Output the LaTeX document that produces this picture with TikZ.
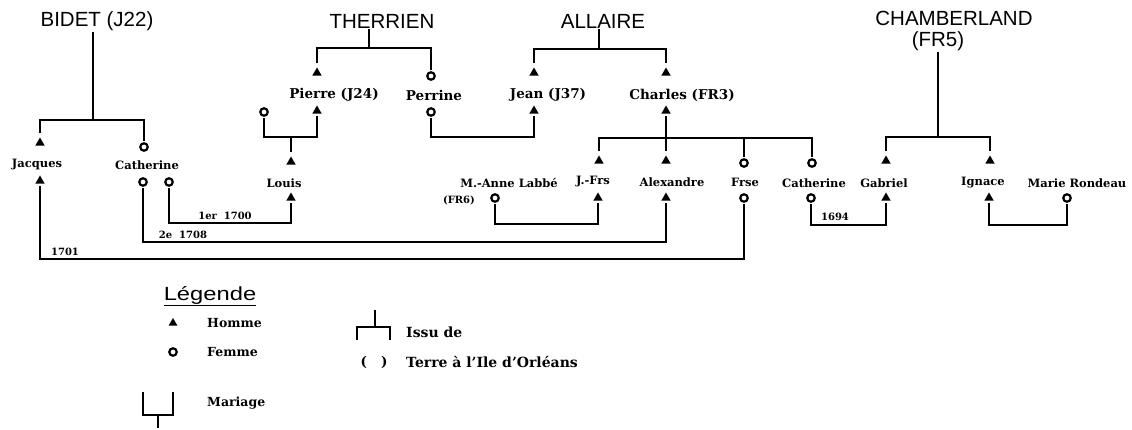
\documentclass[tikz,border=0pt]{standalone}
\usepackage{fontspec}
\setmainfont{DejaVu Serif}
\newfontfamily\famfont{Liberation Sans}
\usetikzlibrary{shapes.geometric, positioning, calc}

\tikzset{
  homme/.style={regular polygon, regular polygon sides=3, fill=black, inner sep=0pt, minimum size=11pt, outer sep=2pt},
  femme/.style={circle, draw=black, line width=2.2pt, inner sep=0pt, minimum size=7.5pt, outer sep=2.5pt},
  nom/.style={font=\fontsize{11.5}{13}\selectfont\bfseries, inner sep=1pt},
  grandnom/.style={font=\fontsize{13.5}{15}\selectfont\bfseries, inner sep=1pt},
  legtexte/.style={font=\fontsize{12.5}{14}\selectfont\bfseries, inner sep=1pt, anchor=west},
  date/.style={font=\fontsize{10}{11}\selectfont\bfseries, inner sep=1pt},
  famille/.style={font=\famfont\fontsize{20.5}{22}\selectfont, inner sep=1pt},
  lien/.style={line width=1.8pt},
}

\begin{document}
\begin{tikzpicture}[x=1pt, y=-1pt]
  \useasboundingbox (0,0) rectangle (1132,430);

  % familles d'origine
  \node[famille] (bidet) at (97,21) {BIDET (J22)};
  \node[famille] (therrien) at (382,21) {THERRIEN};
  \node[famille] (allaire) at (603,21) {ALLAIRE};
  \node[famille] (chamberland) at (954,18) {CHAMBERLAND};
  \node[famille] (fr5) at (938,41) {(FR5)};
  \coordinate (bidetJ) at (93,120);
  \coordinate (therrienJ) at (369,48);
  \coordinate (allaireJ) at (599,49);
  \coordinate (chJ) at (938,137);

  % Bidet
  \node[homme] (jacquesH) at (40,143) {};
  \node[nom] (jacques) at (37,165) {Jacques};
  \node[homme] (jacquesB) at (40,181) {};
  \node[femme] (catbH) at (144,147) {};
  \node[nom] (catb) at (147,165) {Catherine};
  \node[femme] (catbB1) at (143,182) {};
  \node[femme] (catbB2) at (169,182) {};
  \draw[lien] (bidetJ |- bidet.south) -- (bidetJ);
  \draw[lien] (jacquesH.north) |- (bidetJ) -| (catbH.north);

  % Therrien
  \node[homme] (pierreH) at (317,73) {};
  \node[grandnom] (pierre) at (334,95) {Pierre (J24)};
  \node[homme] (pierreB) at (317,111) {};
  \node[femme] (perrineH) at (431,76) {};
  \node[grandnom] (perrine) at (434,95) {Perrine};
  \node[femme] (perrineB) at (431,112) {};
  \node[femme] (louisM) at (264,112) {};
  \draw[lien] (therrienJ |- therrien.south) -- (therrienJ);
  \draw[lien] (pierreH.north) |- (therrienJ) -| (perrineH.north);

  % Louis
  \coordinate (mPierre) at (291,137);
  \node[homme] (louisH) at (291,162) {};
  \node[nom] (louis) at (284,183) {Louis};
  \node[homme] (louisB) at (291,198) {};
  \draw[lien] (louisM.south) |- (mPierre) -| (pierreB.south);
  \draw[lien] (mPierre) -- (louisH.north);

  % Allaire
  \node[homme] (jeanH) at (534,73) {};
  \node[grandnom] (jean) at (548,95) {Jean (J37)};
  \node[homme] (jeanB) at (534,111) {};
  \node[homme] (charlesH) at (666,73) {};
  \node[grandnom] (charles) at (682,95) {Charles (FR3)};
  \node[homme] (charlesB) at (666,111) {};
  \draw[lien] (allaireJ |- allaire.south) -- (allaireJ);
  \draw[lien] (jeanH.north) |- (allaireJ) -| (charlesH.north);
  \coordinate (mJean) at (482,137);
  \draw[lien] (perrineB.south) |- (mJean) -| (jeanB.south);

  % enfants de Charles
  \coordinate (cJ) at (666,138);
  \node[homme] (jfH) at (599,161) {};
  \node[nom] (jf) at (593,182) {J.-Frs};
  \node[homme] (jfB) at (598,198) {};
  \node[homme] (alexH) at (666,161) {};
  \node[nom] (alex) at (672,182) {Alexandre};
  \node[homme] (alexB) at (666,198) {};
  \node[femme] (frseH) at (744,163) {};
  \node[nom] (frse) at (745,182) {Frse};
  \node[femme] (frseB) at (744,198) {};
  \node[femme] (catcH) at (812,163) {};
  \node[nom] (catc) at (814,183) {Catherine};
  \node[femme] (catcB) at (811,198) {};
  \draw[lien] (charlesB.south) -- (alexH.north);
  \draw[lien] (jfH.north) |- (cJ) -| (catcH.north);
  \draw[lien] (frseH.north) -- (frseH.north |- cJ);

  \node[femme] (anneB) at (495,198) {};
  \node[nom] (anne) at (509,183) {M.-Anne Labbé};
  \node[date] (fr6) at (459,200) {(FR6)};

  % Chamberland
  \node[homme] (gabrielH) at (886,161) {};
  \node[nom] (gabriel) at (884,183) {Gabriel};
  \node[homme] (gabrielB) at (886,198) {};
  \node[homme] (ignaceH) at (990,161) {};
  \node[nom] (ignace) at (983,183) {Ignace};
  \node[homme] (ignaceB) at (989,198) {};
  \node[femme] (marieB) at (1067,198) {};
  \node[nom] (marie) at (1077,183) {Marie Rondeau};
  \draw[lien] (fr5.south -| chJ) -- (chJ);
  \draw[lien] (gabrielH.north) |- (chJ) -| (ignaceH.north);

  % mariages
  \coordinate (m1700) at (230,223);
  \coordinate (m1708) at (400,242);
  \coordinate (m1701) at (400,259);
  \coordinate (mAnne) at (546,224);
  \coordinate (m1694) at (848,225);
  \coordinate (mIgnace) at (1028,225);
  \draw[lien] (catbB2.south) |- (m1700) -| (louisB.south);
  \draw[lien] (catbB1.south) |- (m1708) -| (alexB.south);
  \draw[lien] (jacquesB.south) |- (m1701) -| (frseB.south);
  \draw[lien] (anneB.south) |- (mAnne) -| (jfB.south);
  \draw[lien] (catcB.south) |- (m1694) -| (gabrielB.south);
  \draw[lien] (ignaceB.south) |- (mIgnace) -| (marieB.south);
  \node[date] (d1700) at (225,216) {1er\ \ 1700};
  \node[date] (d1708) at (183,235) {2e\ \ 1708};
  \node[date] (d1701) at (65,252) {1701};
  \node[date] (d1694) at (835,217) {1694};

  % legende
  \node[famille, font=\famfont\fontsize{19}{21}\selectfont] (legende) at (210,296) {\scalebox{1.25}[1]{\underline{Légende}}};
  \node[homme, minimum size=10pt] (legH) at (173,323) {};
  \node[legtexte] (homme) at (206,323) {Homme};
  \node[femme] (legF) at (173,352) {};
  \node[legtexte] (femme) at (206,352) {Femme};
  \draw[lien] (143,392) -- (143,415) -- (173,415) -- (173,392);
  \draw[lien] (158,415) -- (158,428);
  \node[legtexte] (mariage) at (206,403) {Mariage};
  \draw[lien] (357,340) -- (357,327) -- (390,327) -- (390,340);
  \draw[lien] (375,327) -- (375,310);
  \node[legtexte, font=\fontsize{14}{16}\selectfont\bfseries] (issu) at (405,332) {Issu de};
  \node[grandnom] (paren) at (374,362) {(\hspace{14pt})};
  \node[legtexte, font=\fontsize{14}{16}\selectfont\bfseries] (terre) at (405,362) {Terre à l'Ile d'Orléans};
\end{tikzpicture}
\end{document}
